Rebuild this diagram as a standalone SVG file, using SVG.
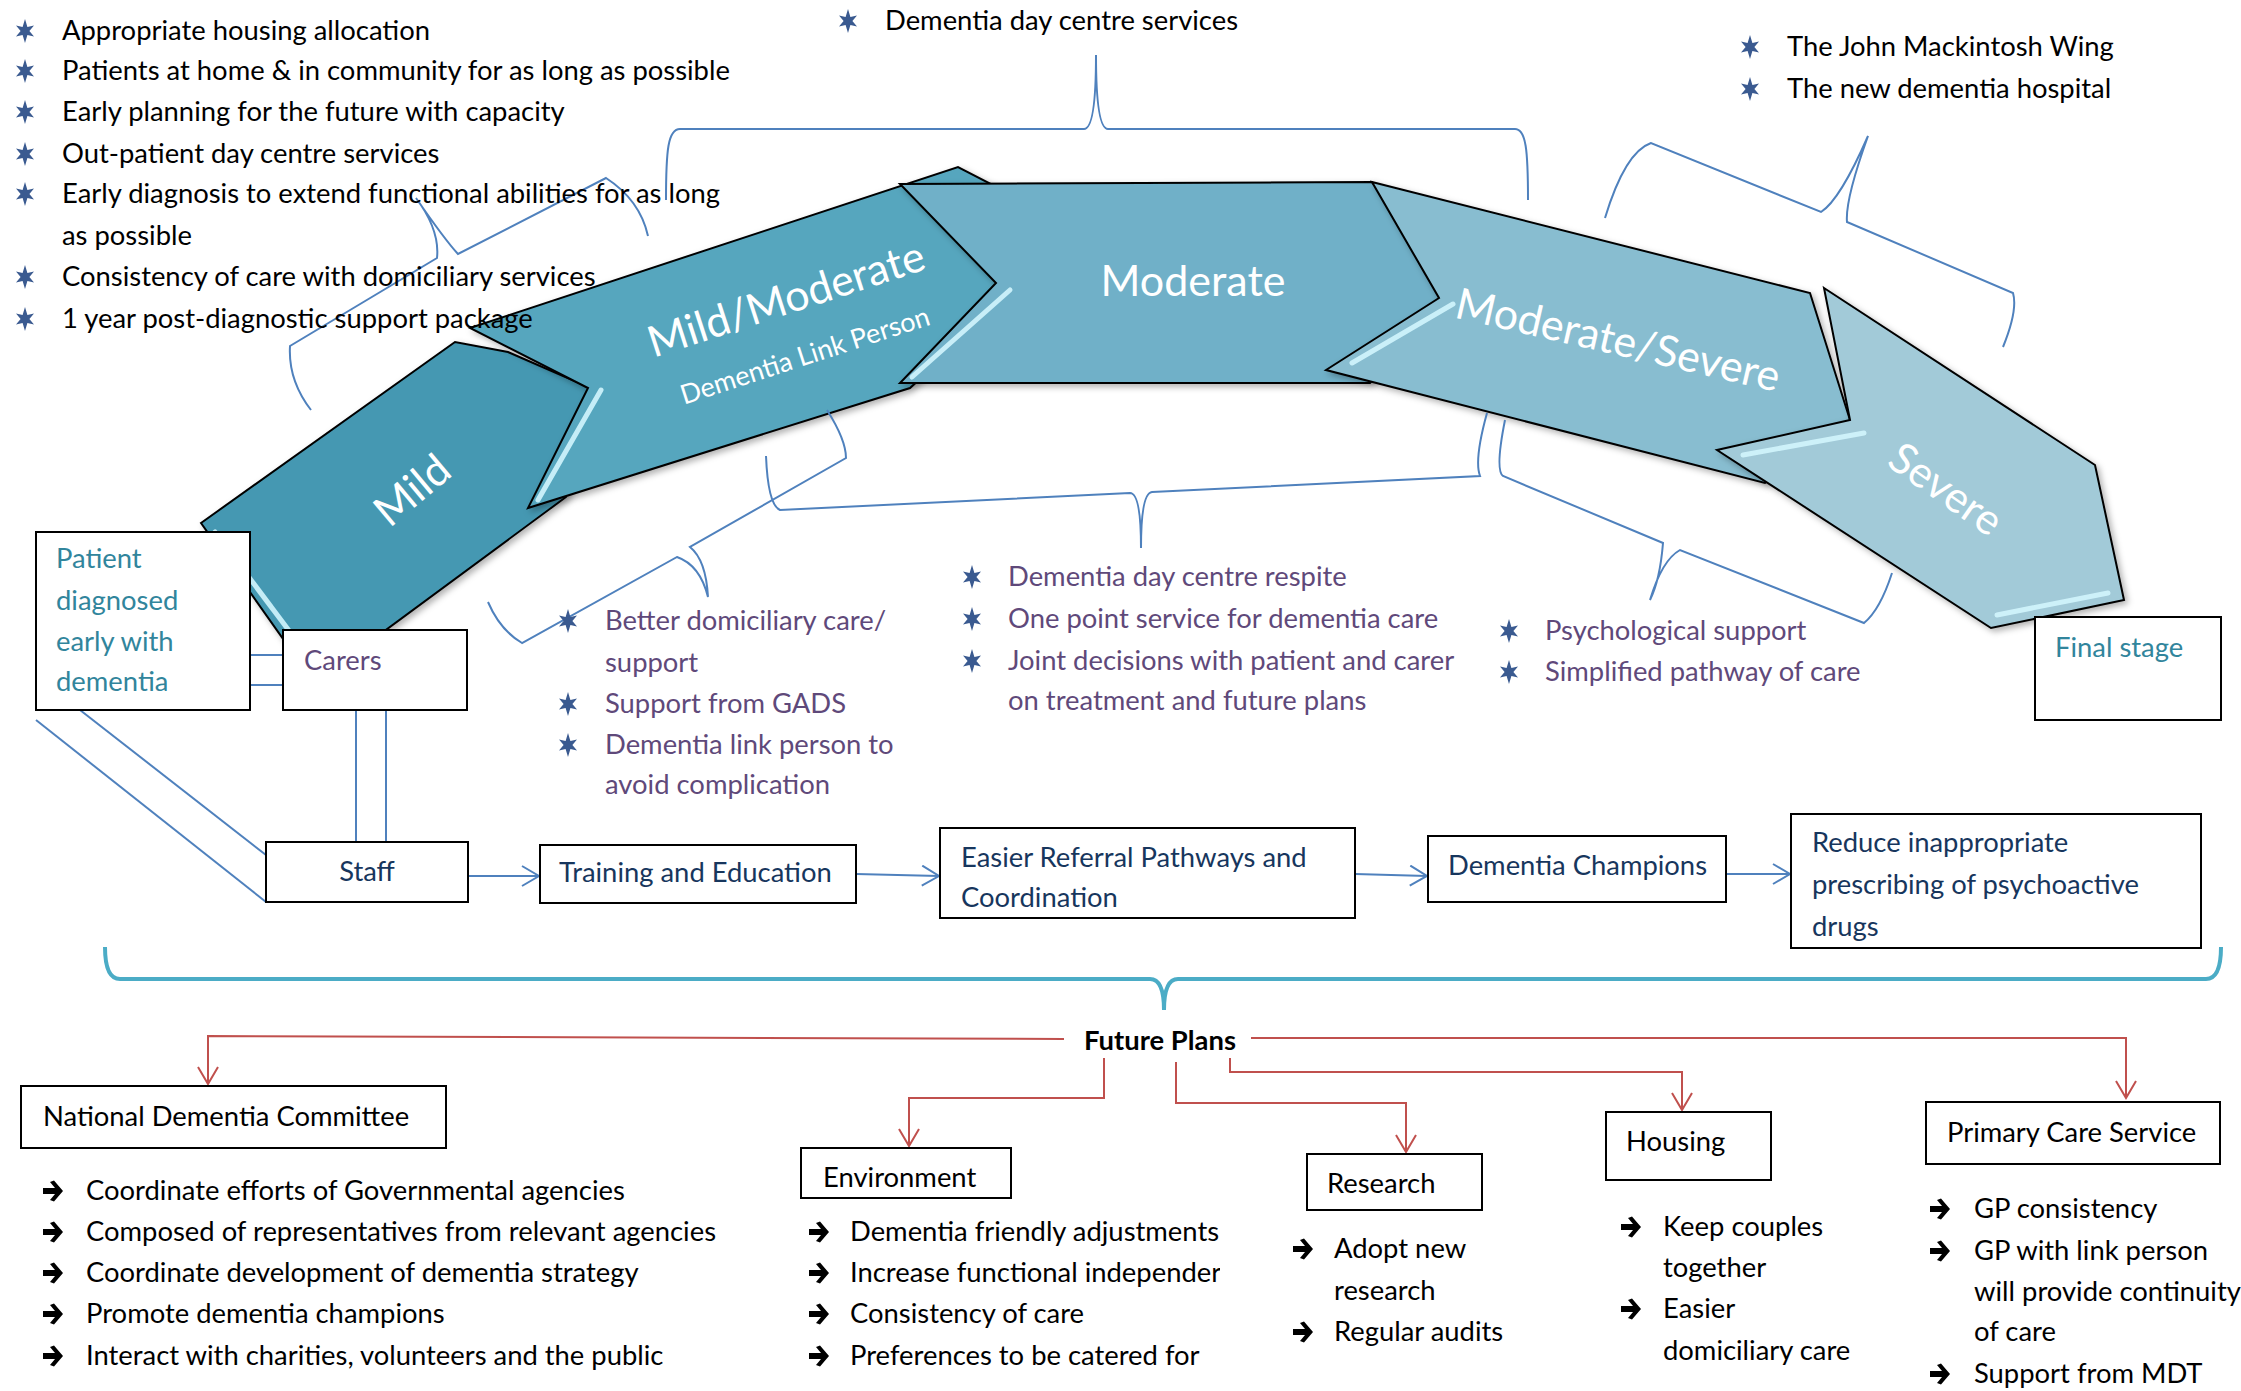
<svg xmlns="http://www.w3.org/2000/svg" width="2241" height="1391" viewBox="0 0 2241 1391">
<defs>
<style>
text { font-family: Lato, 'Liberation Sans', sans-serif; font-size: 27.4px; }
.blk { fill: #000; }
.pur { fill: #5f497a; }
.teal { fill: #31859c; }
.navy { fill: #17365d; }
.lbl { fill: #fff; font-size: 43px; text-anchor: middle; }
.box { fill: #fff; stroke: #000; stroke-width: 2; }
.brace { fill: none; stroke: #4f81bd; stroke-width: 2; }
.conn { fill: none; stroke: #4f81bd; stroke-width: 2; }
.red { fill: none; stroke: #c0504d; stroke-width: 2; }
.chev { stroke: #000; stroke-width: 2; stroke-linejoin: miter; filter: url(#sh); }
.hl { stroke: #d2f5fd; stroke-width: 5; stroke-linecap: round; fill: none; opacity: 0.9; }
</style>
<filter id="sh" x="-10%" y="-10%" width="130%" height="130%">
<feDropShadow dx="3" dy="3" stdDeviation="3" flood-color="#000" flood-opacity="0.3"/>
</filter>
<path id="star" d="M0,-12 L2.4,-4 L9,-5.6 L4.4,0 L9,5.6 L2.4,4 L0,12 L-2.4,4 L-9,5.6 L-4.4,0 L-9,-5.6 L-2.4,-4 Z" fill="#3a5a90"/>
<path id="arr" d="M-10,-3 L2,-3 L-3,-9 L1,-10.5 L10,0 L1,10.5 L-3,9 L2,3 L-10,3 Z" fill="#000"/>
<marker id="mb" viewBox="0 0 20 22" refX="18" refY="11" markerWidth="20" markerHeight="22" markerUnits="userSpaceOnUse" orient="auto">
<path d="M1,1 L18,11 L1,21" fill="none" stroke="#4f81bd" stroke-width="2"/>
</marker>
<marker id="mr" viewBox="0 0 20 22" refX="18" refY="11" markerWidth="20" markerHeight="22" markerUnits="userSpaceOnUse" orient="auto">
<path d="M1,1 L18,11 L1,21" fill="none" stroke="#c0504d" stroke-width="2"/>
</marker>
<clipPath id="envclip"><rect x="0" y="1200" width="1220" height="191"/></clipPath>
</defs>
<rect width="2241" height="1391" fill="#fff"/>

<!-- Chevron band -->
<g id="mild">
<polygon class="chev" fill="#4598b2" points="201,523 455,342 508,352 600,392 566,497 383,632 298,660"/>
<line class="hl" x1="215" y1="532" x2="290" y2="632"/>
</g>
<g id="mild-moderate">
<polygon class="chev" fill="#56a6be" points="470,328 958,167 1082,231 910,388 528,508 588,388"/>
<line class="hl" x1="601" y1="390" x2="538" y2="500"/>
</g>
<g id="moderate">
<polygon class="chev" fill="#70b0c8" points="900,184 1372,182 1460,290 1370,383 900,383 996,283"/>
<line class="hl" x1="1010" y1="290" x2="912" y2="377"/>
</g>
<g id="moderate-severe">
<polygon class="chev" fill="#88bdd0" points="1372,182 1810,293 1850,420 1765,483 1326,370 1439,298"/>
<line class="hl" x1="1453" y1="304" x2="1352" y2="363"/>
</g>
<g id="severe">
<polygon class="chev" fill="#a2cad8" points="1824,288 2095,465 2124,600 1991,628 1717,450 1850,420"/>
<line class="hl" x1="1743" y1="455" x2="1864" y2="433"/>
<line class="hl" x1="1997" y1="615" x2="2108" y2="593"/>
</g>
<g id="chevron-labels">
<text class="lbl" transform="translate(412,490) rotate(-40)" x="0" y="15">Mild</text>
<text class="lbl" transform="translate(786,299) rotate(-18)" x="0" y="15">Mild/Moderate</text>
<text class="lbl" style="font-size:27px" transform="translate(805,356) rotate(-18)" x="0" y="9">Dementia Link Person</text>
<text class="lbl" transform="translate(1193,281)" x="0" y="15">Moderate</text>
<text class="lbl" transform="translate(1618,340) rotate(13)" x="0" y="15">Moderate/Severe</text>
<text class="lbl" transform="translate(1946,489) rotate(35)" x="0" y="15">Severe</text>
</g>

<!-- Braces and connectors -->
<g id="connectors">
<path class="brace" d="M666,200 C666,150 668,129 680,129 L1084,129 Q1096,129 1096,55 Q1096,129 1108,129 L1515,129 C1526,129 1528,150 1528,200"/>
<path class="brace" d="M311,410 Q288,380 290,346 L437,258 Q440,230 416,198 Q445,240 458,254 L606,178 Q640,200 648,236"/>
<path class="brace" d="M1605,218 Q1625,152 1651,143 L1821,212 Q1840,200 1868,136 Q1845,200 1847,222 L2013,293 Q2018,310 2003,347"/>
<path class="brace" d="M766,456 Q768,505 780,510 L1130,493 Q1141,493 1141,548 Q1141,493 1152,492 L1480,476 Q1474,460 1487,413"/>
<path class="brace" d="M1505,420 Q1495,470 1503,476 L1663,543 Q1660,580 1650,600 Q1662,560 1680,550 L1864,623 Q1880,610 1892,573"/>
<path class="brace" d="M827,410 Q846,440 846,458 L690,547 Q706,560 708,597 Q700,565 677,557 L522,643 Q500,630 488,602"/>

<line class="conn" x1="250" y1="655" x2="283" y2="655"/>
<line class="conn" x1="250" y1="685" x2="283" y2="685"/>
<line class="conn" x1="356" y1="710" x2="356" y2="842"/>
<line class="conn" x1="386" y1="710" x2="386" y2="842"/>
<line class="conn" x1="36" y1="720" x2="266" y2="902"/>
<line class="conn" x1="80" y1="710" x2="266" y2="855"/>
<line class="conn" x1="468" y1="876" x2="539" y2="876" marker-end="url(#mb)"/>
<line class="conn" x1="856" y1="874" x2="939" y2="876" marker-end="url(#mb)"/>
<line class="conn" x1="1355" y1="874" x2="1427" y2="876" marker-end="url(#mb)"/>
<line class="conn" x1="1727" y1="874" x2="1790" y2="874" marker-end="url(#mb)"/>

<path d="M105,947 Q105,979 120,979 L1150,979 Q1164,979 1164,1010 Q1164,979 1178,979 L2206,979 Q2221,979 2221,947" fill="none" stroke="#4bacc6" stroke-width="4"/>

<path class="red" d="M1064,1039 L208,1036 L208,1084" marker-end="url(#mr)"/>
<path class="red" d="M1251,1038 L2126,1038 L2126,1098" marker-end="url(#mr)"/>
<path class="red" d="M1104,1058 L1104,1098 L909,1098 L909,1146" marker-end="url(#mr)"/>
<path class="red" d="M1176,1062 L1176,1103 L1406,1103 L1406,1152" marker-end="url(#mr)"/>
<path class="red" d="M1230,1058 L1230,1072 L1682,1072 L1682,1110" marker-end="url(#mr)"/>
</g>

<!-- Top-left list -->
<g id="list-top-left" class="blk">
<use href="#star" x="25" y="31"/><text x="62" y="40">Appropriate housing allocation</text>
<use href="#star" x="25" y="71"/><text x="62" y="80">Patients at home &amp; in community for as long as possible</text>
<use href="#star" x="25" y="112"/><text x="62" y="121">Early planning for the future with capacity</text>
<use href="#star" x="25" y="154"/><text x="62" y="163">Out-patient day centre services</text>
<use href="#star" x="25" y="194"/><text x="62" y="203">Early diagnosis to extend functional abilities for as long</text>
<text x="62" y="245">as possible</text>
<use href="#star" x="25" y="277"/><text x="62" y="286">Consistency of care with domiciliary services</text>
<use href="#star" x="25" y="319"/><text x="62" y="328">1 year post-diagnostic support package</text>
</g>
<g id="list-top-center" class="blk">
<use href="#star" x="848" y="21"/><text x="885" y="30">Dementia day centre services</text>
</g>
<g id="list-top-right" class="blk">
<use href="#star" x="1750" y="47"/><text x="1787" y="56">The John Mackintosh Wing</text>
<use href="#star" x="1750" y="89"/><text x="1787" y="98">The new dementia hospital</text>
</g>

<g id="list-mild-moderate" class="pur">
<use href="#star" x="568" y="621"/><text x="605" y="630">Better domiciliary care/</text>
<text x="605" y="672">support</text>
<use href="#star" x="568" y="704"/><text x="605" y="713">Support from GADS</text>
<use href="#star" x="568" y="745"/><text x="605" y="754">Dementia link person to</text>
<text x="605" y="794">avoid complication</text>
</g>
<g id="list-moderate" class="pur">
<use href="#star" x="972" y="577"/><text x="1008" y="586">Dementia day centre respite</text>
<use href="#star" x="972" y="619"/><text x="1008" y="628">One point service for dementia care</text>
<use href="#star" x="972" y="661"/><text x="1008" y="670">Joint decisions with patient and carer</text>
<text x="1008" y="710">on treatment and future plans</text>
</g>
<g id="list-moderate-severe" class="pur">
<use href="#star" x="1509" y="631"/><text x="1545" y="640">Psychological support</text>
<use href="#star" x="1509" y="672"/><text x="1545" y="681">Simplified pathway of care</text>
</g>

<!-- Boxes -->
<g id="patient">
<rect class="box" x="36" y="532" width="214" height="178"/>
<text class="teal" x="56" y="568">Patient</text>
<text class="teal" x="56" y="610">diagnosed</text>
<text class="teal" x="56" y="651">early with</text>
<text class="teal" x="56" y="691">dementia</text>
</g>
<g id="carers">
<rect class="box" x="283" y="630" width="184" height="80"/>
<text class="pur" x="304" y="670">Carers</text>
</g>
<g id="final-stage">
<rect class="box" x="2035" y="617" width="186" height="103"/>
<text class="teal" x="2055" y="657">Final stage</text>
</g>
<g id="staff">
<rect class="box" x="266" y="842" width="202" height="60"/>
<text class="navy" x="367" y="881" text-anchor="middle">Staff</text>
</g>
<g id="training">
<rect class="box" x="540" y="845" width="316" height="58"/>
<text class="navy" x="559" y="882">Training and Education</text>
</g>
<g id="referral">
<rect class="box" x="940" y="828" width="415" height="90"/>
<text class="navy" x="961" y="867">Easier Referral Pathways and</text>
<text class="navy" x="961" y="907">Coordination</text>
</g>
<g id="champions">
<rect class="box" x="1428" y="836" width="298" height="66"/>
<text class="navy" x="1448" y="875">Dementia Champions</text>
</g>
<g id="prescribing">
<rect class="box" x="1791" y="814" width="410" height="134"/>
<text class="navy" x="1812" y="852">Reduce inappropriate</text>
<text class="navy" x="1812" y="894">prescribing of psychoactive</text>
<text class="navy" x="1812" y="936">drugs</text>
</g>

<g id="future-plans">
<text x="1160" y="1050" text-anchor="middle" style="font-weight:bold" class="blk">Future Plans</text>
</g>

<g id="ndc">
<rect class="box" x="21" y="1086" width="425" height="62"/>
<text class="blk" x="43" y="1126">National Dementia Committee</text>
<use href="#arr" x="53" y="1191"/><text class="blk" x="86" y="1200">Coordinate efforts of Governmental agencies</text>
<use href="#arr" x="53" y="1232"/><text class="blk" x="86" y="1241">Composed of representatives from relevant agencies</text>
<use href="#arr" x="53" y="1273"/><text class="blk" x="86" y="1282">Coordinate development of dementia strategy</text>
<use href="#arr" x="53" y="1314"/><text class="blk" x="86" y="1323">Promote dementia champions</text>
<use href="#arr" x="53" y="1356"/><text class="blk" x="86" y="1365">Interact with charities, volunteers and the public</text>
</g>
<g id="environment">
<rect class="box" x="801" y="1148" width="210" height="50"/>
<text class="blk" x="823" y="1187">Environment</text>
<g clip-path="url(#envclip)">
<use href="#arr" x="819" y="1232"/><text class="blk" x="850" y="1241">Dementia friendly adjustments</text>
<use href="#arr" x="819" y="1273"/><text class="blk" x="850" y="1282">Increase functional independer</text>
<use href="#arr" x="819" y="1314"/><text class="blk" x="850" y="1323">Consistency of care</text>
<use href="#arr" x="819" y="1356"/><text class="blk" x="850" y="1365">Preferences to be catered for</text>
</g>
</g>
<g id="research">
<rect class="box" x="1307" y="1154" width="175" height="56"/>
<text class="blk" x="1327" y="1193">Research</text>
<use href="#arr" x="1303" y="1249"/><text class="blk" x="1334" y="1258">Adopt new</text>
<text class="blk" x="1334" y="1300">research</text>
<use href="#arr" x="1303" y="1332"/><text class="blk" x="1334" y="1341">Regular audits</text>
</g>
<g id="housing">
<rect class="box" x="1606" y="1112" width="165" height="68"/>
<text class="blk" x="1626" y="1151">Housing</text>
<use href="#arr" x="1631" y="1227"/><text class="blk" x="1663" y="1236">Keep couples</text>
<text class="blk" x="1663" y="1277">together</text>
<use href="#arr" x="1631" y="1309"/><text class="blk" x="1663" y="1318">Easier</text>
<text class="blk" x="1663" y="1360">domiciliary care</text>
</g>
<g id="primary-care">
<rect class="box" x="1926" y="1102" width="294" height="62"/>
<text class="blk" x="1947" y="1142">Primary Care Service</text>
<use href="#arr" x="1940" y="1209"/><text class="blk" x="1974" y="1218">GP consistency</text>
<use href="#arr" x="1940" y="1251"/><text class="blk" x="1974" y="1260">GP with link person</text>
<text class="blk" x="1974" y="1301">will provide continuity</text>
<text class="blk" x="1974" y="1341">of care</text>
<use href="#arr" x="1940" y="1374"/><text class="blk" x="1974" y="1383">Support from MDT</text>
</g>
</svg>
